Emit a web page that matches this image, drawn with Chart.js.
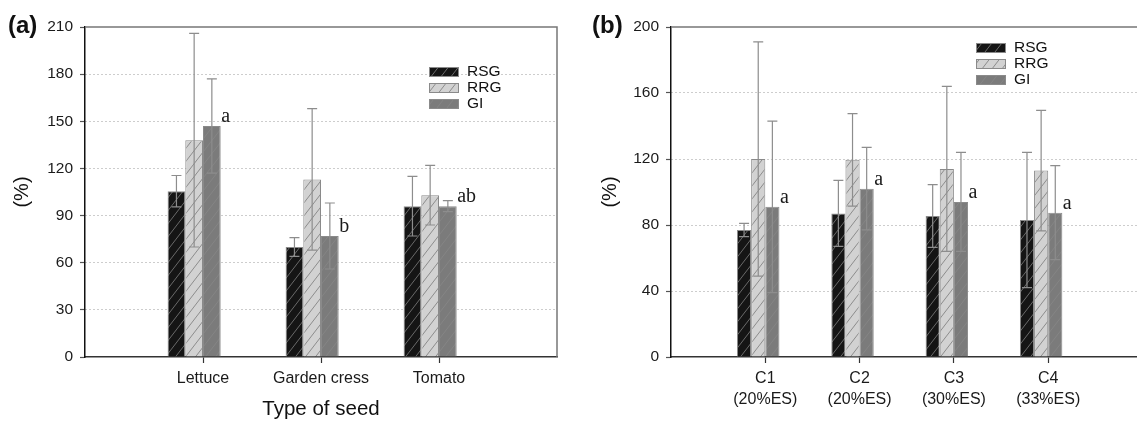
<!DOCTYPE html>
<html>
<head>
<meta charset="utf-8">
<script src="https://cdn.jsdelivr.net/npm/chart.js@4.4.1/dist/chart.umd.min.js"></script>
<style>
  html, body { margin: 0; padding: 0; background: #fff; overflow: hidden; width: 1137px; height: 423px; }
  .panel { position: absolute; top: 0; height: 423px; }
  #wrapA { left: 0; width: 565px; }
  #wrapB { left: 565px; width: 585px; }
</style>
</head>
<body>
<div class="panel" id="wrapA"><canvas id="chartA"></canvas></div>
<div class="panel" id="wrapB"><canvas id="chartB"></canvas></div>
<script>
// ---- panel (a): type of seed ----
const seedTypes = ['Lettuce', 'Garden cress', 'Tomato'];
const rsgA = [105.5, 70, 96];
const rsgErrA = [10, 6, 19];
const rrgA = [138, 113, 103];
const rrgErrA = [68, 45, 19];
const giA = [147, 77, 96];
const giErrA = [30, 21, 3.5];
const lettersA = ['a', 'b', 'ab'];
const yTicksA = [0, 30, 60, 90, 120, 150, 180, 210];

// ---- panel (b): compost mixes ----
const mixes = [['C1', '(20%ES)'], ['C2', '(20%ES)'], ['C3', '(30%ES)'], ['C4', '(33%ES)']];
const rsgB = [77, 87, 85.5, 83];
const rsgErrB = [4, 20, 19, 41];
const rrgB = [120, 119.5, 114, 113];
const rrgErrB = [71, 28, 50, 36.5];
const giB = [91, 102, 94, 87.5];
const giErrB = [52, 25, 30, 28.5];
const lettersB = ['a', 'a', 'a', 'a'];
const yTicksB = [0, 40, 80, 120, 160, 200];

const seriesNames = ['RSG', 'RRG', 'GI'];

function hatch(bg, line) {
    const c = document.createElement('canvas');
    c.width = 10; c.height = 13;
    const g = c.getContext('2d');
    g.fillStyle = bg;
    g.fillRect(0, 0, 10, 13);
    g.strokeStyle = line;
    g.lineWidth = 1;
    g.beginPath();
    g.moveTo(-1, 14.3); g.lineTo(11, -1.3);
    g.moveTo(-11, 14.3); g.lineTo(1, -1.3);
    g.moveTo(9, 14.3); g.lineTo(21, -1.3);
    g.stroke();
    return g.createPattern(c, 'repeat');
}

const fills = [
    hatch('#151515', '#6a6a6a'),
    hatch('#d2d2d2', '#8c8c8c'),
    hatch('#7b7b7b', '#858585')
];

const pad = arr => [null, ...arr, null];

// error whiskers, drawn through the y scale
const errorBars = {
    id: 'errorBars',
    afterDatasetsDraw(chart) {
        const { ctx, scales: { y } } = chart;
        ctx.save();
        ctx.strokeStyle = '#8d8d8d';
        ctx.lineWidth = 1.2;
        chart.data.datasets.forEach((ds, di) => {
            if (!ds.errors) return;
            chart.getDatasetMeta(di).data.forEach((bar, i) => {
                const v = ds.data[i], e = ds.errors[i];
                if (v == null || e == null) return;
                const top = y.getPixelForValue(v + e);
                const bot = y.getPixelForValue(v - e);
                ctx.beginPath();
                ctx.moveTo(bar.x, top); ctx.lineTo(bar.x, bot);
                ctx.moveTo(bar.x - 5, top); ctx.lineTo(bar.x + 5, top);
                ctx.moveTo(bar.x - 5, bot); ctx.lineTo(bar.x + 5, bot);
                ctx.stroke();
            });
        });
        ctx.restore();
    }
};

// significance letters next to the GI bars
const barLetters = {
    id: 'barLetters',
    afterDatasetsDraw(chart) {
        const { ctx } = chart;
        ctx.save();
        ctx.font = '20px "Liberation Serif"';
        ctx.fillStyle = '#1a1a1a';
        ctx.textAlign = 'left';
        ctx.textBaseline = 'alphabetic';
        chart.data.datasets.forEach((ds, di) => {
            if (!ds.letters) return;
            chart.getDatasetMeta(di).data.forEach((bar, i) => {
                if (!ds.letters[i]) return;
                ctx.fillText(ds.letters[i], bar.x + bar.width / 2 + 0.5, bar.y - 4);
            });
        });
        ctx.restore();
    }
};

// top/right frame, legend inside the plot, panel tag
const decorations = {
    id: 'decorations',
    afterDraw(chart, args, opts) {
        const { ctx, chartArea: a } = chart;
        ctx.save();
        ctx.strokeStyle = '#777';
        ctx.lineWidth = 1.5;
        ctx.beginPath();
        ctx.moveTo(a.left, a.top); ctx.lineTo(a.right, a.top); ctx.lineTo(a.right, a.bottom);
        ctx.stroke();

        ctx.font = '15.5px "Liberation Sans"';
        ctx.textBaseline = 'middle';
        ctx.textAlign = 'left';
        chart.data.datasets.forEach((ds, i) => {
            if (!ds.label) return;
            const y = opts.legendY + i * 16;
            ctx.fillStyle = ds.backgroundColor;
            ctx.fillRect(opts.legendX, y, 30, 10);
            ctx.strokeStyle = '#8a8a8a';
            ctx.lineWidth = 1;
            ctx.strokeRect(opts.legendX + 0.5, y + 0.5, 29, 9);
            ctx.fillStyle = '#111';
            ctx.fillText(ds.label, opts.legendX + 38, y + 5);
        });

        ctx.font = 'bold 24px "Liberation Sans"';
        ctx.fillStyle = '#111';
        ctx.fillText(opts.tag, opts.tagX, 26);
        ctx.restore();
    }
};

function makeChart(id, cats, values, errors, letters, yTicks, o) {
    const datasets = values.map((vals, k) => ({
        label: seriesNames[k],
        data: pad(vals),
        errors: pad(errors[k]),
        letters: k === 2 ? pad(letters) : undefined,
        backgroundColor: fills[k],
        borderColor: '#8a8a8a',
        borderWidth: 1
    }));
    // empty slot so each group sits left of the tick, as in the original
    datasets.push({ label: '', data: pad(cats.map(() => null)) });

    return new Chart(document.getElementById(id), {
        type: 'bar',
        data: { labels: pad(cats).map(c => c === null ? '' : c), datasets },
        options: {
            responsive: true,
            maintainAspectRatio: false,
            animation: false,
            events: [],
            categoryPercentage: 0.6,
            barPercentage: 1.0,
            layout: { padding: { top: 27, right: o.padRight, left: 0, bottom: 0 } },
            plugins: {
                legend: { display: false },
                tooltip: { enabled: false },
                decorations: { legendX: o.legendX, legendY: o.legendY, tag: o.tag, tagX: o.tagX }
            },
            scales: {
                x: {
                    offset: false,
                    afterFit: s => { s.height = 66; },
                    border: { color: '#333', width: 1.5 },
                    grid: {
                        offset: false,
                        drawOnChartArea: false,
                        tickLength: 6,
                        tickWidth: 1.2,
                        tickBorderDash: [],
                        tickColor: c => (c.index === 0 || c.index === cats.length + 1) ? 'rgba(0,0,0,0)' : '#333'
                    },
                    ticks: {
                        autoSkip: false,
                        maxRotation: 0,
                        padding: 5,
                        color: '#1a1a1a',
                        font: { family: 'Liberation Sans', size: 16, lineHeight: 1.3 }
                    },
                    title: o.xTitle ? {
                        display: true,
                        text: o.xTitle,
                        color: '#111',
                        font: { family: 'Liberation Sans', size: 20.5 },
                        padding: { top: 0, bottom: 1 }
                    } : { display: false }
                },
                y: {
                    min: 0,
                    max: yTicks[yTicks.length - 1],
                    afterBuildTicks: s => { s.ticks = yTicks.map(v => ({ value: v })); },
                    afterFit: s => { s.width = o.yWidth; },
                    border: { color: '#111', width: 1.5, dash: [1, 3] },
                    grid: {
                        color: c => (c.index === 0 || c.index === yTicks.length - 1) ? 'rgba(0,0,0,0)' : '#9a9a9a',
                        lineWidth: 1,
                        tickLength: 5,
                        tickWidth: 1.2,
                        tickBorderDash: [],
                        tickColor: '#555'
                    },
                    ticks: {
                        padding: 7,
                        color: '#1a1a1a',
                        font: { family: 'Liberation Sans', size: 15.5 }
                    },
                    title: {
                        display: true,
                        text: '(%)',
                        color: '#111',
                        font: { family: 'Liberation Sans', size: 20 },
                        padding: { top: o.yTitlePad, bottom: 0 }
                    }
                }
            }
        },
        plugins: [errorBars, barLetters, decorations]
    });
}

makeChart('chartA', seedTypes, [rsgA, rrgA, giA], [rsgErrA, rrgErrA, giErrA], lettersA, yTicksA, {
    padRight: 8, yWidth: 85, yTitlePad: 10, xTitle: 'Type of seed',
    legendX: 429, legendY: 67, tag: '(a)', tagX: 8
});

makeChart('chartB', mixes, [rsgB, rrgB, giB], [rsgErrB, rrgErrB, giErrB], lettersB, yTicksB, {
    padRight: 7.5, yWidth: 106, yTitlePad: 33, xTitle: null,
    legendX: 411, legendY: 43, tag: '(b)', tagX: 27
});
</script>
</body>
</html>
